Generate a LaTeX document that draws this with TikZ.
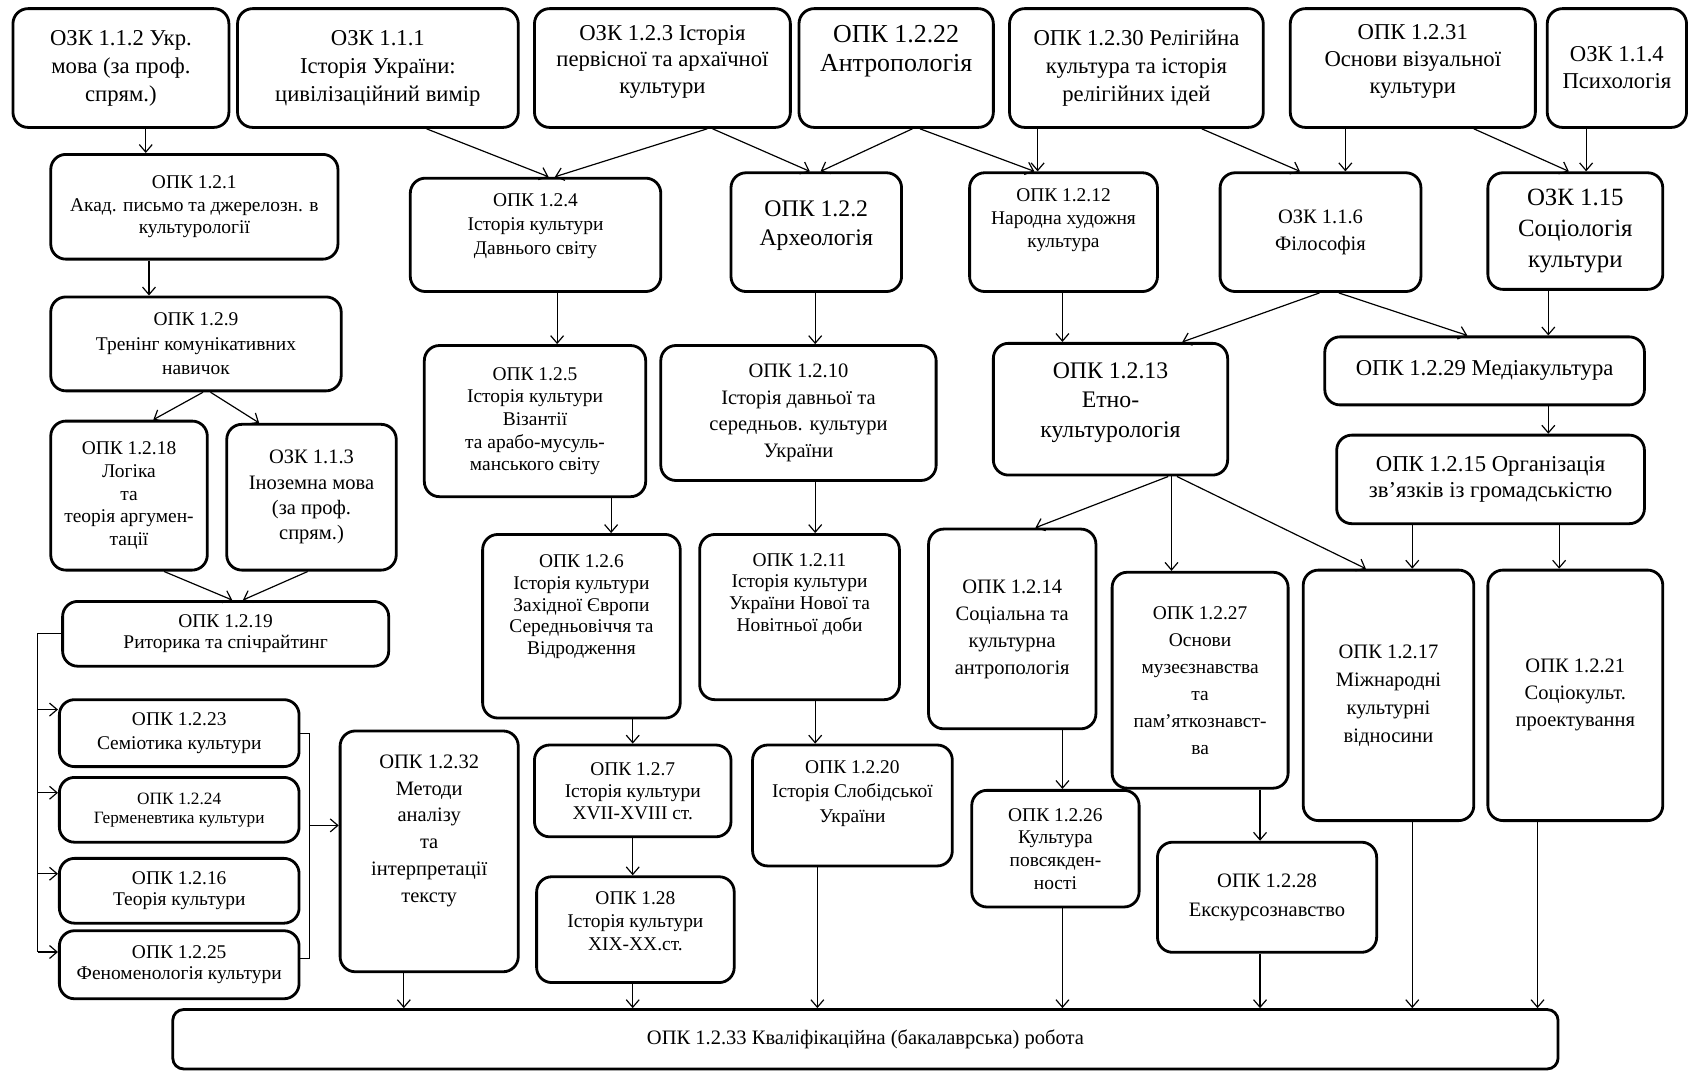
\documentclass[tikz,border=0pt]{standalone}
\usepackage{fontspec}
\setmainfont{Liberation Serif}
\usetikzlibrary{arrows.meta}

\begin{document}
\begin{tikzpicture}[
    x=1pt, y=-1pt,
    box/.style={
        rectangle,
        rounded corners=14pt,
        draw,
        line width=2.6pt,
        fill=white,
        align=center,
        inner sep=2pt,
        font=\fontsize{18}{21}\selectfont
    },
    fs/.style 2 args={font=\fontsize{#1}{#2}\selectfont},
    dim/.style 2 args={minimum width=#1pt, minimum height=#2pt},
    lift/.style={text depth=#1pt},
    link/.style={line width=1.1pt},
    arr/.style={link, -{Straight Barb[length=7pt,width=12pt]}}
]
\useasboundingbox (0,0) rectangle (1568,991);

% top row
\node[box, fs={21}{26}, dim={200}{110}] (ukrmova) at (112,63) {ОЗК 1.1.2 Укр.\\мова (за проф.\\спрям.)};
\node[box, fs={21}{26}, dim={260}{110}] (histukr) at (350,63) {ОЗК 1.1.1\\Історія України:\\цивілізаційний вимір};
\node[box, fs={21}{24.5}, dim={237}{110}, lift=16] (primcult) at (613.5,63) {ОЗК 1.2.3 Історія\\первісної та архаїчної\\культури};
\node[box, fs={24}{27}, dim={180}{110}, lift=37] (anthrop) at (830,63) {ОПК 1.2.22\\Антропологія};
\node[box, fs={21}{26}, dim={235}{110}] (relig) at (1052.5,63) {ОПК 1.2.30 Релігійна\\культура та історія\\релігійних ідей};
\node[box, fs={21}{25}, dim={227}{110}, lift=16] (visual) at (1308.5,63) {ОПК 1.2.31\\Основи візуальної\\культури};
\node[box, fs={21}{25}, dim={129}{110}] (psych) at (1497.5,63) {ОЗК 1.1.4\\Психологія};

% left column
\node[box, dim={266}{97}] (acadwrit) at (180,191.5) {ОПК 1.2.1\\Акад. письмо та джерелозн. в\\культурології};
\node[box, fs={18}{22.5}, dim={269}{87}] (commtrain) at (181.5,318.5) {ОПК 1.2.9\\Тренінг комунікативних\\навичок};
\node[box, dim={145}{138}] (logic) at (119.5,459) {ОПК 1.2.18\\Логіка\\та\\теорія аргумен-\\тації};
\node[box, fs={19}{23.5}, dim={157}{135}] (foreign) at (288.5,460.5) {ОЗК 1.1.3\\Іноземна мова\\(за проф.\\спрям.)};
\node[box, fs={18}{20}, dim={302}{60}] (rhetoric) at (209,587) {ОПК 1.2.19\\Риторика та спічрайтинг};
\node[box, fs={18}{22}, dim={222}{62}] (semiot) at (166,679) {ОПК 1.2.23\\Семіотика культури};
\node[box, fs={16}{17.5}, dim={222}{60}] (hermen) at (166,750) {ОПК 1.2.24\\Герменевтика культури};
\node[box, fs={18}{20}, dim={222}{60}] (cultheory) at (166,825) {ОПК 1.2.16\\Теорія культури};
\node[box, fs={18}{19}, dim={222}{63}] (phenom) at (166,893.5) {ОПК 1.2.25\\Феноменологія культури};
\node[box, fs={19}{25}, dim={165}{223}, lift=42] (textmeth) at (397.5,788.5) {ОПК 1.2.32\\Методи\\аналізу\\та\\інтерпретації\\тексту};

% history of culture
\node[box, fs={18}{22}, dim={232}{105}, lift=20] (ancient) at (496,217.5) {ОПК 1.2.4\\Історія культури\\Давнього світу};
\node[box, dim={205}{140}] (byzant) at (495.5,390) {ОПК 1.2.5\\Історія культури\\Візантії\\та арабо-мусуль-\\манського світу};
\node[box, fs={18}{20}, dim={183}{170}, lift=40] (westeur) at (538.5,580) {ОПК 1.2.6\\Історія культури\\Західної Європи\\Середньовіччя та\\Відродження};
\node[box, fs={18}{20.5}, dim={182}{85}] (histxvii) at (586,732.5) {ОПК 1.2.7\\Історія культури\\XVII-XVIII ст.};
\node[box, fs={18}{21.5}, dim={183}{98}, lift=16] (histxix) at (588.5,861) {ОПК 1.28\\Історія культури\\XIX-XX.ст.};

% history of Ukraine
\node[box, fs={22}{27}, dim={158}{110}, lift=17] (archae) at (756,215) {ОПК 1.2.2\\Археологія};
\node[box, fs={19}{24.5}, dim={255}{125}] (ukrmed) at (739.5,382.5) {ОПК 1.2.10\\Історія давньої та\\середньов. культури\\України};
\node[box, fs={18}{20}, dim={185}{153}, lift=46] (ukrnew) at (740.5,571.5) {ОПК 1.2.11\\Історія культури\\України Нової та\\Новітньої доби};
\node[box, fs={18}{22.5}, dim={185}{112}, lift=26] (sloboda) at (789.5,746) {ОПК 1.2.20\\Історія Слобідської\\України};

% ethnology
\node[box, fs={18}{21.5}, dim={174}{110}, lift=26] (folkart) at (985,215) {ОПК 1.2.12\\Народна художня\\культура};
\node[box, fs={22}{27.5}, dim={217}{122}, lift=17] (ethno) at (1028.5,379) {ОПК 1.2.13\\Етно-\\культурологія};
\node[box, fs={19}{25}, dim={155}{185}] (socanth) at (937.5,582.5) {ОПК 1.2.14\\Соціальна та\\культурна\\антропологія};
\node[box, fs={18}{21}, dim={155}{108}] (everyday) at (977.5,786) {ОПК 1.2.26\\Культура\\повсякден-\\ності};
\node[box, fs={18}{25}, dim={163}{200}] (museum) at (1111.5,630) {ОПК 1.2.27\\Основи\\музеєзнавства\\та\\пам'яткознавст-\\ва};
\node[box, fs={19}{27}, dim={203}{102}] (excurs) at (1173.5,831) {ОПК 1.2.28\\Екскурсознавство};

% right part
\node[box, fs={19}{25}, dim={186}{110}] (philos) at (1223,215) {ОЗК 1.1.6\\Філософія};
\node[box, fs={23}{28.5}, dim={162}{108}] (sociol) at (1459,214) {ОЗК 1.15\\Соціологія\\культури};
\node[box, fs={21}{25}, dim={296}{63}] (media) at (1375,343.5) {ОПК 1.2.29 Медіакультура};
\node[box, fs={21}{25}, dim={285}{82}] (pubrel) at (1380.5,444) {ОПК 1.2.15 Організація\\зв'язків із громадськістю};
\node[box, fs={19}{26}, dim={158}{232}] (intl) at (1286,644) {ОПК 1.2.17\\Міжнародні\\культурні\\відносини};
\node[box, fs={19}{25}, dim={162}{232}] (sociodes) at (1459,644) {ОПК 1.2.21\\Соціокульт.\\проектування};

% thesis
\node[box, fs={19}{22}, dim={1283}{55}, rounded corners=10pt] (thesis) at (801.5,962.5) {ОПК 1.2.33 Кваліфікаційна (бакалаврська) робота};

% left column links
\draw[arr] ([xshift=23pt]ukrmova.south) -- ([xshift=-45pt]acadwrit.north);
\draw[arr] ([xshift=-42pt]acadwrit.south) -- ([xshift=-43.5pt]commtrain.north);
\draw[arr] ([xshift=6.5pt]commtrain.south) -- ([xshift=22.5pt]logic.north);
\draw[arr] ([xshift=13.5pt]commtrain.south) -- ([xshift=-48.5pt]foreign.north);
\draw[arr] ([xshift=32.5pt]logic.south) -- ([xshift=6pt]rhetoric.north);
\draw[arr] ([xshift=-3.5pt]foreign.south) -- ([xshift=16pt]rhetoric.north);

\coordinate (spine) at (35,600);
\draw[link] (rhetoric.west) -| (spine |- phenom.174);
\draw[arr] (spine |- semiot.169) -- (semiot.169);
\draw[arr] (spine |- hermen.172) -- (hermen.172);
\draw[arr] (spine |- cultheory.172) -- (cultheory.172);
\draw[arr] (spine |- phenom.174) -- (phenom.174);
\draw[link] (semiot.east) -- ++(8,0) coordinate (brk) -- (brk |- phenom.3) -- (phenom.3);
\draw[arr] (brk |- textmeth.164) -- (textmeth.164);

% top row links
\draw[arr] ([xshift=45pt]histukr.south) -- ([xshift=12pt]ancient.north);
\draw[arr] ([xshift=41.5pt]primcult.south) -- ([xshift=18pt]ancient.north);
\draw[arr] ([xshift=46.5pt]primcult.south) -- ([xshift=-6pt]archae.north);
\draw[arr] ([xshift=15pt]anthrop.south) -- ([xshift=4pt]archae.north);
\draw[arr] ([xshift=22pt]anthrop.south) -- ([xshift=-27pt]folkart.north);
\draw[arr] ([xshift=-91.5pt]relig.south) -- ([xshift=-24pt]folkart.north);
\draw[arr] ([xshift=60.5pt]relig.south) -- ([xshift=-19pt]philos.north);
\draw[arr] ([xshift=-62.5pt]visual.south) -- ([xshift=23pt]philos.north);
\draw[arr] ([xshift=56.5pt]visual.south) -- ([xshift=-6pt]sociol.north);
\draw[arr] ([xshift=-28.5pt]psych.south) -- ([xshift=10pt]sociol.north);

% middle links
\draw[arr] ([xshift=20pt]ancient.south) -- ([xshift=20.5pt]byzant.north);
\draw[arr] ([xshift=70.5pt]byzant.south) -- ([xshift=27.5pt]westeur.north);
\draw[arr] ([xshift=47.5pt]westeur.south) -- (histxvii.north);
\draw[arr] (histxvii.south) -- ([xshift=-2.5pt]histxix.north);
\draw[arr] ([xshift=-1pt]archae.south) -- ([xshift=15.5pt]ukrmed.north);
\draw[arr] ([xshift=15.5pt]ukrmed.south) -- ([xshift=14.5pt]ukrnew.north);
\draw[arr] ([xshift=14.5pt]ukrnew.south) -- ([xshift=-34.5pt]sloboda.north);
\draw[arr] ([xshift=-1pt]folkart.south) -- ([xshift=-44.5pt]ethno.north);
\draw[arr] ([xshift=-1pt]philos.south) -- ([xshift=66.5pt]ethno.north);
\draw[arr] ([xshift=17pt]philos.south) -- ([xshift=-16pt]media.north);
\draw[arr] ([xshift=-25pt]sociol.south) -- ([xshift=59pt]media.north);
\draw[arr] ([xshift=59pt]media.south) -- ([xshift=53.5pt]pubrel.north);
\draw[arr] ([xshift=53.5pt]ethno.south) -- ([xshift=21.5pt]socanth.north);
\draw[arr] ([xshift=56.5pt]ethno.south) -- ([xshift=-26.5pt]museum.north);
\draw[arr] ([xshift=61.5pt]ethno.south) -- ([xshift=-21pt]intl.north);
\draw[arr] ([xshift=-72.5pt]pubrel.south) -- ([xshift=22pt]intl.north);
\draw[arr] ([xshift=63.5pt]pubrel.south) -- ([xshift=-15pt]sociodes.north);
\draw[arr] ([xshift=46.5pt]socanth.south) -- ([xshift=6.5pt]everyday.north);
\draw[arr] ([xshift=55.5pt]museum.south) -- ([xshift=-6.5pt]excurs.north);

% links to the thesis
\draw[arr] ([xshift=-23.5pt]textmeth.south) -- ([xshift=-427.5pt]thesis.north);
\draw[arr] ([xshift=-2.5pt]histxix.south) -- ([xshift=-215.5pt]thesis.north);
\draw[arr] ([xshift=-32.5pt]sloboda.south) -- ([xshift=-44.5pt]thesis.north);
\draw[arr] ([xshift=6.5pt]everyday.south) -- ([xshift=182.5pt]thesis.north);
\draw[arr] ([xshift=-6.5pt]excurs.south) -- ([xshift=365.5pt]thesis.north);
\draw[arr] ([xshift=22pt]intl.south) -- ([xshift=506.5pt]thesis.north);
\draw[arr] ([xshift=-35pt]sociodes.south) -- ([xshift=622.5pt]thesis.north);

\end{tikzpicture}
\end{document}
